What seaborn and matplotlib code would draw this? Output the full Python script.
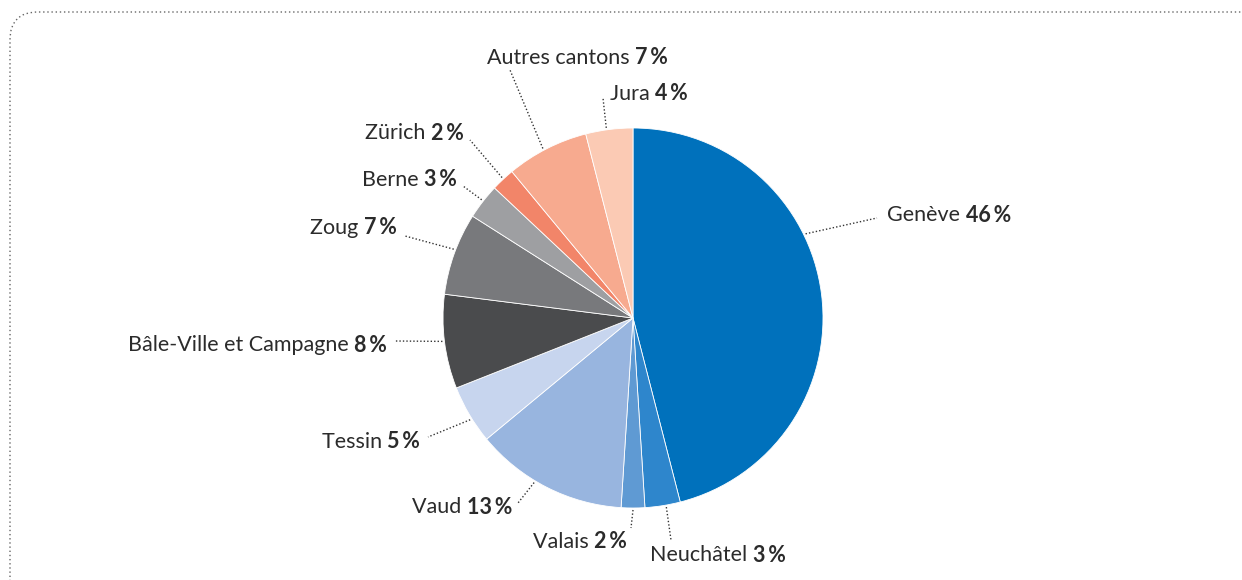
import numpy as np
import seaborn as sns
import matplotlib.pyplot as plt
from matplotlib.patches import FancyBboxPatch

sns.set_theme(style="white")
plt.rcParams["font.family"] = ["Lato", "DejaVu Sans"]

cantons = ["Genève", "Neuchâtel", "Valais", "Vaud", "Tessin",
           "Bâle-Ville et Campagne", "Zoug", "Berne", "Zürich",
           "Autres cantons", "Jura"]
shares = [46, 3, 2, 13, 5, 8, 7, 3, 2, 7, 4]
colors = ["#0071BC", "#2E86CC", "#5F9AD3", "#98B5DF", "#C7D5EE",
          "#4A4B4D", "#78797C", "#9E9FA2", "#F28569", "#F7AA8F", "#FBCAB4"]

# layout (pixel coords, y from top): leader start angle on the pie edge,
# leader end point, text anchor and alignment
leader_angle = [26, -80, -90, -121, -148, -173, 159, 142, 133, 118, 98]
leader_end = [(877, 218), (671, 540), (631, 528), (518, 503), (428, 437),
              (395, 341), (405, 236), (463, 186), (470, 140), (510, 70), (603, 98)]
text_pos = [(887, 215), (650, 555), (627, 542), (512, 507), (420, 442),
            (387, 345), (397, 228), (457, 180), (464, 133), (487, 58), (610, 94)]
text_align = ["left", "left", "right", "right", "right",
              "right", "right", "right", "right", "left", "left"]

W, H = 1242, 580
cx, cy, R = 633, 318, 190

fig = plt.figure(figsize=(W / 100, H / 100), dpi=100)
ax = fig.add_axes([0, 0, 1, 1])

ax.pie(shares, colors=colors, startangle=90, counterclock=False,
       center=(cx, H - cy), radius=R, frame=True,
       wedgeprops=dict(linewidth=0.6, edgecolor="white"))
ax.set_xlim(0, W)
ax.set_ylim(0, H)
ax.axis("off")

border = FancyBboxPatch((10, -30), 1260, H - 12 + 30,
                        boxstyle="round,pad=0,rounding_size=28",
                        fill=False, edgecolor="#666666", linewidth=1.0,
                        linestyle=(0, (1, 2)), clip_on=False)
ax.add_patch(border)

renderer = fig.canvas.get_renderer()
txt_color = "#2b2b2b"
fs = 15.5

for name, val, ang, end, pos, ha in zip(cantons, shares, leader_angle,
                                        leader_end, text_pos, text_align):
    a = np.deg2rad(ang)
    sx = cx + (R + 2) * np.cos(a)
    sy = cy - (R + 2) * np.sin(a)
    ax.plot([sx, end[0]], [H - sy, H - end[1]], color="#333333",
            linewidth=1.0, linestyle=(0, (1, 1.5)))
    x, y = pos
    y = H - y
    pct = f"{val}\u2009%"
    if ha == "left":
        t1 = ax.text(x, y, name + " ", ha="left", va="center",
                     fontsize=fs, fontweight="normal", color=txt_color)
        bb = t1.get_window_extent(renderer)
        xd = ax.transData.inverted().transform((bb.x1, 0))[0]
        ax.text(xd, y, pct, ha="left", va="center",
                fontsize=fs, fontweight="bold", color=txt_color)
    else:
        t2 = ax.text(x, y, pct, ha="right", va="center",
                     fontsize=fs, fontweight="bold", color=txt_color)
        bb = t2.get_window_extent(renderer)
        xd = ax.transData.inverted().transform((bb.x0, 0))[0]
        ax.text(xd, y, name + " ", ha="right", va="center",
                fontsize=fs, fontweight="normal", color=txt_color)

fig.savefig("out.png", dpi=100)
